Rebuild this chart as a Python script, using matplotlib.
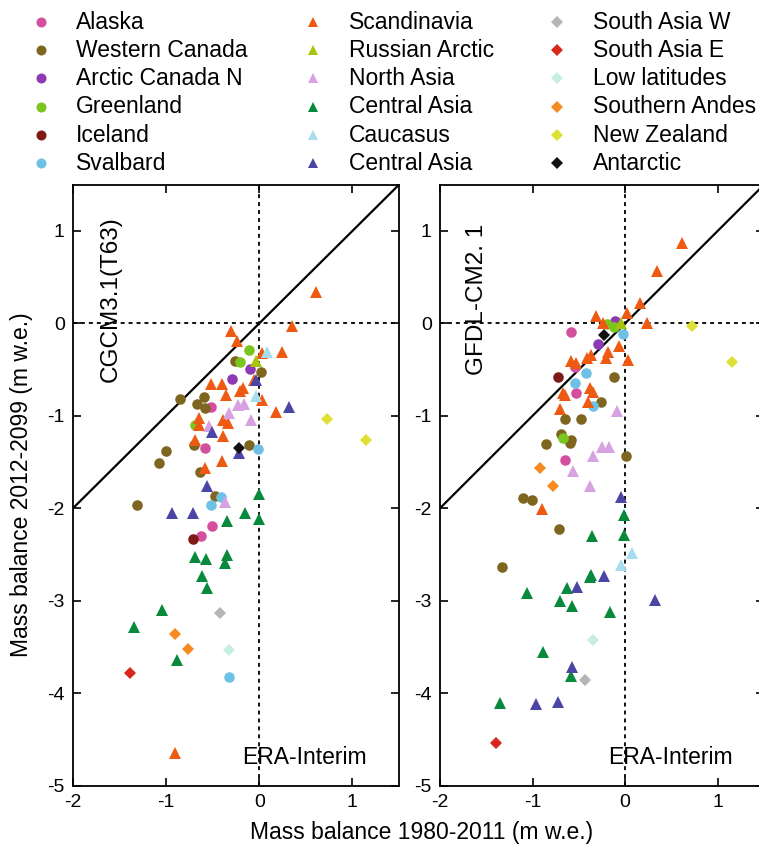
import matplotlib.pyplot as plt
import numpy as np

plt.rcParams['font.family'] = ['Liberation Sans', 'DejaVu Sans']
plt.rcParams['axes.unicode_minus'] = False

regions = ['Alaska', 'Western Canada', 'Arctic Canada N', 'Greenland', 'Iceland', 'Svalbard',
           'Scandinavia', 'Russian Arctic', 'North Asia', 'Central Asia', 'Caucasus', 'Central Asia',
           'South Asia W', 'South Asia E', 'Low latitudes', 'Southern Andes', 'New Zealand', 'Antarctic']
colors = ['#d4509f', '#7f6620', '#8e3ab5', '#7ac51e', '#7e1b17', '#6ec1e4',
          '#ee5a12', '#a6c40a', '#d8a2e2', '#078a3c', '#a6def0', '#4b45a6',
          '#b5b5b5', '#d8281c', '#c6efdd', '#f58a1f', '#dfe034', '#111111']
markers = ['o'] * 6 + ['^'] * 6 + ['D'] * 6

# CGCM3.1(T63): number of glaciers per region (legend order), then x and y in the same order
cgcm_counts = [4, 13, 2, 3, 1, 4, 23, 1, 6, 13, 2, 7, 1, 1, 1, 2, 2, 1]
cgcm_x = [-0.52, -0.58, -0.51, -0.63,
          -0.26, 0.015, -0.85, -0.67, -0.595, -0.58, -0.70, -0.11, -1.00, -1.08, -0.64, -0.48, -1.31,
          -0.10, -0.29,
          -0.11, -0.21, -0.69,
          -0.71,
          -0.01, -0.415, -0.52, -0.33,
          0.61, 0.355, -0.30, -0.24, 0.03, 0.24, -0.52, -0.40, -0.06, -0.21, -0.17, -0.36,
          0.03, 0.18, -0.65, -0.645, -0.39, -0.34, -0.69, -0.39, -0.40, -0.58, -0.90,
          -0.035,
          -0.23, -0.16, -0.33, -0.54, -0.09, -0.37,
          0.0, -0.155, 0.0, -0.345, -0.69, -0.57, -0.35, -0.37, -0.62, -0.565, -1.04, -1.34, -0.88,
          0.085, -0.03,
          -0.035, 0.32, -0.51, -0.215, -0.565, -0.94, -0.71,
          -0.42,
          -1.39,
          -0.33,
          -0.905, -0.76,
          0.725, 1.15,
          -0.22]
cgcm_y = [-0.90, -1.35, -2.19, -2.30,
          -0.41, -0.53, -0.82, -0.87, -0.80, -0.92, -1.32, -1.32, -1.38, -1.51, -1.61, -1.87, -1.97,
          -0.49, -0.60,
          -0.29, -0.415, -1.10,
          -2.33,
          -1.36, -1.88, -1.96, -3.83,
          0.34, -0.03, -0.08, -0.19, -0.32, -0.31, -0.66, -0.66, -0.61, -0.73, -0.70, -0.78,
          -0.83, -0.96, -1.02, -1.10, -1.05, -1.08, -1.26, -1.22, -1.49, -1.57, -4.65,
          -0.41,
          -0.88, -0.87, -0.97, -1.11, -1.05, -1.93,
          -1.85, -2.05, -2.12, -2.14, -2.53, -2.55, -2.51, -2.59, -2.73, -2.86, -3.10, -3.28, -3.64,
          -0.31, -0.79,
          -0.61, -0.91, -1.18, -1.40, -1.76, -2.05, -2.05,
          -3.13,
          -3.78,
          -3.53,
          -3.36, -3.52,
          -1.04, -1.26,
          -1.35]

# GFDL-CM2.1
gfdl_counts = [4, 13, 2, 3, 1, 4, 22, 1, 6, 13, 2, 7, 1, 1, 1, 2, 2, 1]
gfdl_x = [-0.585, -0.54, -0.53, -0.65,
          -0.115, -0.26, -0.65, -0.48, -0.69, -0.59, -0.60, -0.86, 0.01, -1.10, -1.01, -0.71, -1.33,
          -0.11, -0.29,
          -0.20, -0.115, -0.675,
          -0.72,
          -0.02, -0.42, -0.54, -0.35,
          0.61, 0.34, 0.165, 0.02, -0.31, 0.24, -0.24, -0.07, -0.18, -0.21, 0.03,
          -0.37, -0.41, -0.59, -0.53, -0.67, -0.65, -0.38, -0.35, -0.405, -0.70, -0.90,
          -0.04,
          -0.09, -0.25, -0.17, -0.35, -0.56, -0.38,
          -0.015, -0.01, -0.36, -0.37, -0.375, -0.63, -1.055, -0.70, -0.575, -0.16, -0.885, -0.58, -1.355,
          0.075, -0.045,
          -0.045, -0.225, -0.52, 0.32, -0.575, -0.965, -0.72,
          -0.43,
          -1.40,
          -0.35,
          -0.92, -0.775,
          0.725, 1.15,
          -0.23]
gfdl_y = [-0.09, -0.47, -0.75, -1.48,
          -0.58, -0.85, -1.03, -1.03, -1.20, -1.26, -1.29, -1.31, -1.43, -1.89, -1.91, -2.23, -2.64,
          0.02, -0.22,
          -0.01, -0.04, -1.24,
          -0.58,
          -0.12, -0.54, -0.64, -0.895,
          0.87, 0.57, 0.22, 0.11, 0.08, 0.0, 0.0, -0.25, -0.31, -0.38, -0.40,
          -0.34, -0.38, -0.41, -0.43, -0.75, -0.77, -0.70, -0.74, -0.85, -0.93, -2.01,
          0.0,
          -0.95, -1.34, -1.34, -1.43, -1.60, -1.76,
          -2.07, -2.29, -2.30, -2.72, -2.74, -2.86, -2.915, -3.00, -3.06, -3.12, -3.56, -3.81, -4.11,
          -2.49, -2.61,
          -1.88, -2.73, -2.85, -2.99, -3.72, -4.12, -4.10,
          -3.86,
          -4.54,
          -3.43,
          -1.57, -1.76,
          -0.03, -0.415,
          -0.13]

marker_size = {'o': 7.6, '^': 8.0, 'D': 6.4}

fig = plt.figure(figsize=(7.59, 8.49), dpi=100)
W, H = 759.0, 849.0
bot, top = 785.5, 184.7
ax1 = fig.add_axes([73 / W, (H - bot) / H, (399 - 73) / W, (bot - top) / H])
ax2 = fig.add_axes([440 / W, (H - bot) / H, (764 - 440) / W, (bot - top) / H])


def draw_panel(ax, counts, xs, ys, model):
    ax.axhline(0, color='black', lw=1.3, ls=(0, (2.2, 2.2)), zorder=1)
    ax.axvline(0, color='black', lw=1.3, ls=(0, (2.2, 2.2)), zorder=1)
    ax.axline((0, 0), slope=1, color='black', lw=1.6, zorder=1)
    edges = np.cumsum([0] + counts)
    for i in range(len(regions)):
        a, b = edges[i], edges[i + 1]
        m = markers[i]
        ax.plot(xs[a:b], ys[a:b], ls='none', marker=m, ms=marker_size[m],
                color=colors[i], mew=0, zorder=3)
    ax.set_xlim(-2, 1.5)
    ax.set_ylim(-5, 1.5)
    ax.set_xticks([-2, -1, 0, 1])
    ax.set_yticks([-5, -4, -3, -2, -1, 0, 1])
    ax.tick_params(direction='in', top=True, right=True, length=6, width=1.2,
                   labelsize=14, pad=6)
    for s in ax.spines.values():
        s.set_linewidth(1.3)
    ax.text(-1.6, 0.26, model, rotation=90, fontsize=17.5, ha='center', va='center')
    ax.text(0.49, -4.70, 'ERA-Interim', fontsize=16.5, ha='center', va='center')


draw_panel(ax1, cgcm_counts, cgcm_x, cgcm_y, 'CGCM3.1(T63)')
draw_panel(ax2, gfdl_counts, gfdl_x, gfdl_y, 'GFDL-CM2. 1')

fig.text(22 / W, 1 - 485 / H, 'Mass balance 2012-2099 (m w.e.)', rotation=90,
         fontsize=16.5, ha='center', va='center')
fig.text(422 / W, 1 - 832 / H, 'Mass balance 1980-2011 (m w.e.)',
         fontsize=16.5, ha='center', va='center')

# legend, three columns of six
leg = fig.add_axes([0, 0, 1, 1])
leg.set_xlim(0, W)
leg.set_ylim(H, 0)
leg.axis('off')
col_marker = [41, 313, 557]
col_text = [76, 349, 593]
row_y = [22, 50, 78.3, 106.6, 135, 163]
for i, name in enumerate(regions):
    c, r = divmod(i, 6)
    m = markers[i]
    leg.plot([col_marker[c]], [row_y[r]], ls='none', marker=m, ms=marker_size[m] * 0.95,
             color=colors[i], mew=0)
    leg.text(col_text[c], row_y[r], name, fontsize=16.5, ha='left', va='center')

fig.savefig('out.png', dpi=100)
